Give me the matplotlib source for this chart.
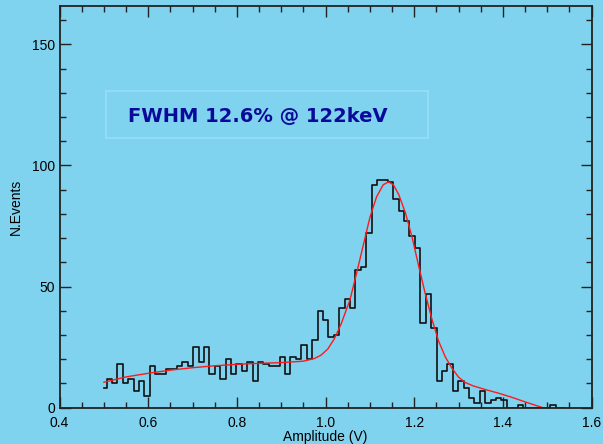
import numpy as np
import matplotlib
matplotlib.use('Agg')
import matplotlib.pyplot as plt
from matplotlib.patches import Rectangle
from matplotlib.ticker import MultipleLocator

# pulse height spectrum, one count per bin, bins of ~0.0122 V starting at 0.5 V
BIN_START = 0.5
BIN_WIDTH = 0.0122
counts = [8, 12, 10, 18, 10, 12, 7, 11, 5, 17,
          14, 14, 16, 16, 17, 19, 17, 25, 19, 25,
          14, 17, 12, 20, 14, 18, 15, 19, 11, 19,
          18, 17, 17, 21, 14, 21, 20, 26, 20, 28,
          40, 36, 29, 30, 41, 45, 41, 57, 58, 72,
          92, 94, 94, 93, 86, 81, 77, 71, 66, 35,
          47, 33, 11, 15, 18, 7, 11, 8, 4, 2,
          7, 2, 3, 4, 3, 0, 0, 1, 0, 0,
          0, 0, 0, 1, 0, 0]

# fitted line (photopeak + background)
fit_x = [0.50, 0.55, 0.60, 0.65, 0.70, 0.75, 0.80, 0.85, 0.90, 0.95,
         0.975, 0.99, 1.005, 1.02, 1.035, 1.055, 1.07, 1.085, 1.10, 1.115,
         1.13, 1.142, 1.153, 1.165, 1.18, 1.195, 1.21, 1.225, 1.24, 1.255,
         1.27, 1.285, 1.30, 1.315, 1.333, 1.36, 1.39, 1.42, 1.45, 1.48, 1.49]
fit_y = [10.5, 12.7, 14.2, 15.5, 16.5, 17.3, 17.9, 18.3, 18.6, 19.2,
         20.3, 21.7, 24.2, 28.5, 34.5, 44.5, 55.5, 67.0, 78.5, 87.0,
         92.0, 93.2, 92.0, 88.0, 80.5, 70.5, 58.5, 47.0, 36.5, 27.5,
         21.0, 16.3, 12.6, 10.4, 9.0, 7.5, 6.0, 4.3, 2.4, 0.6, 0.0]

BG = '#7fd3ef'
plt.rcParams['font.family'] = ['Liberation Sans', 'DejaVu Sans']

fig = plt.figure(figsize=(6.03, 4.44), dpi=100, facecolor=BG)
ax = fig.add_axes([0.0988, 0.0818, 0.8822, 0.9036])
ax.set_facecolor(BG)

centers = BIN_START + BIN_WIDTH * np.arange(len(counts))
ax.step(centers, counts, where='mid', color='#111111', lw=1.2)
ax.plot(fit_x, fit_y, color='#ff1a1a', lw=1.0)

ax.set_xlim(0.4, 1.6)
ax.set_ylim(0, 165.6)
ax.xaxis.set_major_locator(MultipleLocator(0.2))
ax.xaxis.set_minor_locator(MultipleLocator(0.05))
ax.yaxis.set_major_locator(MultipleLocator(50))
ax.yaxis.set_minor_locator(MultipleLocator(10))
ax.xaxis.set_major_formatter(matplotlib.ticker.FormatStrFormatter('%.1f'))
ax.tick_params(which='both', direction='in', top=True, right=True,
               colors='#222222', labelcolor='black', labelsize=10)
ax.tick_params(which='major', length=8, width=1.0)
ax.tick_params(which='minor', length=4, width=1.0)
ax.tick_params(axis='x', which='major', pad=6)
ax.tick_params(axis='y', which='major', pad=3)
for s in ax.spines.values():
    s.set_color('#222222')
    s.set_linewidth(1.3)

ax.set_xlabel('Amplitude (V)', fontsize=10, labelpad=0)
ax.set_ylabel('N.Events', fontsize=10, labelpad=7)

# annotation box
ax.add_patch(Rectangle((0.0872, 0.672), 0.6054, 0.117, transform=ax.transAxes,
                       facecolor='none', edgecolor='#93dcf6', lw=1.5))
ax.text(0.1286, 0.7246, 'FWHM 12.6% @ 122keV', transform=ax.transAxes,
        fontsize=14, fontweight='bold', color='#0a0a9a', va='center',
        family=['DejaVu Sans'])

fig.savefig('out.png', dpi=100, facecolor=BG)
